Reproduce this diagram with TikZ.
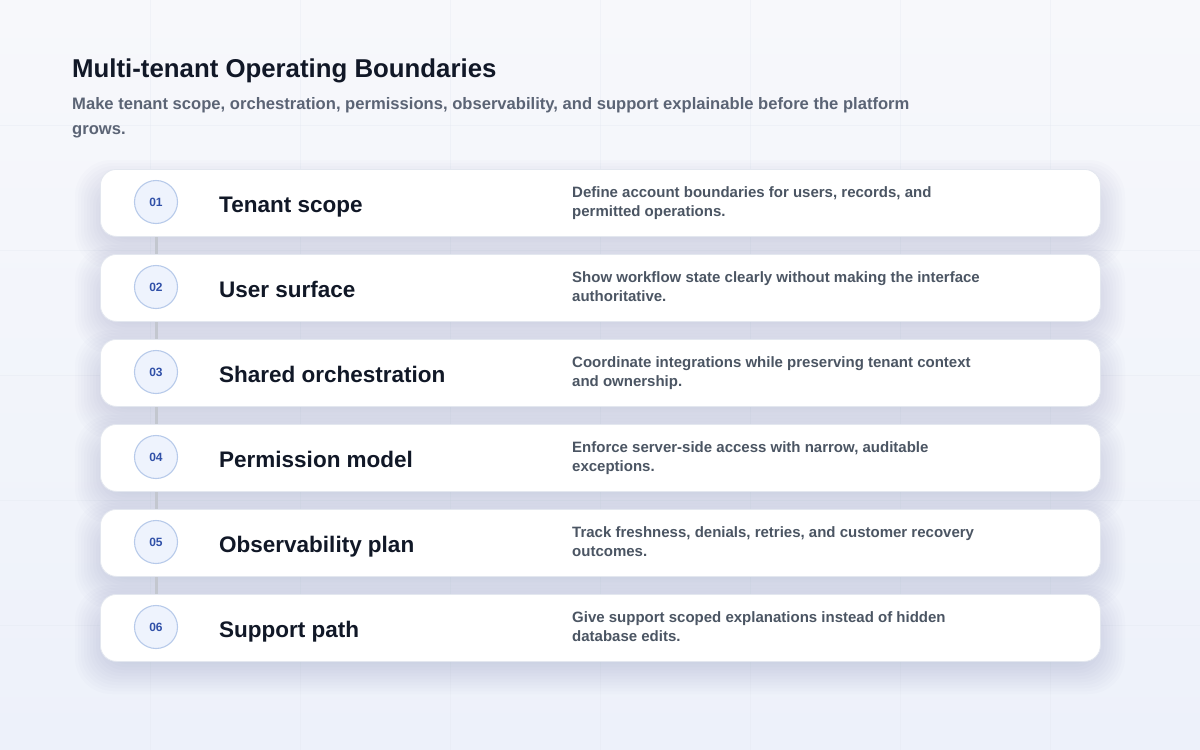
\documentclass[tikz,border=0pt]{standalone}
\usepackage{fontspec}
\setmainfont{Liberation Sans}
\definecolor{bgtop}{HTML}{F7F8FB}
\definecolor{bgbot}{HTML}{EDF1FA}
\definecolor{gridc}{HTML}{E3E8F0}
\definecolor{titlec}{HTML}{111827}
\definecolor{subc}{HTML}{5B6475}
\definecolor{descc}{HTML}{4B5563}
\definecolor{cardline}{HTML}{E3E7EF}
\definecolor{shadowc}{HTML}{4A5A80}
\definecolor{circfill}{HTML}{EEF3FD}
\definecolor{circline}{HTML}{B7CAEA}
\definecolor{numc}{HTML}{3050A8}
\definecolor{linkc}{HTML}{C3C7CF}
\tikzset{
  cardbox/.style={draw=cardline, line width=0.8pt, fill=white, rounded corners=16pt, minimum width=1000pt, minimum height=67pt, inner sep=0pt},
  numcirc/.style={circle, draw=circline, line width=1.1pt, fill=circfill, minimum size=43pt, inner sep=0pt, text=numc, font=\fontsize{12}{14}\bfseries},
  cardtitle/.style={anchor=base west, inner sep=0pt, text=titlec, font=\fontsize{22.5}{26}\bfseries},
  carddesc/.style={anchor=base west, inner sep=0pt, text=descc, font=\fontsize{15}{19}\bfseries},
  linkline/.style={draw=linkc, line width=3pt},
}
\begin{document}
\begin{tikzpicture}[x=1pt,y=-1pt]
\useasboundingbox (0,0) rectangle (1200,750);
% background
\shade[top color=bgtop, bottom color=bgbot] (0,0) rectangle (1200,750);
\foreach \gx in {150,300,...,1050} {\draw[gridc, line width=0.8pt, opacity=0.35] (\gx,0) -- (\gx,750);}
\foreach \gy in {125,250,...,625} {\draw[gridc, line width=0.8pt, opacity=0.35] (0,\gy) -- (1200,\gy);}
% heading
\node[anchor=base west, inner sep=0pt, text=titlec, font=\fontsize{25.8}{30}\bfseries] (title) at (72,77) {Multi-tenant Operating Boundaries};
\node[anchor=base west, inner sep=0pt, text=subc, font=\fontsize{16.6}{20}\bfseries] (sub1) at (72,109.5) {Make tenant scope, orchestration, permissions, observability, and support explainable before the platform};
\node[anchor=base west, inner sep=0pt, text=subc, font=\fontsize{16.6}{20}\bfseries] (sub2) at (72,134.5) {grows.};
% shadows
\foreach \i in {0,...,5} {
  \pgfmathsetmacro{\ty}{169+85*\i}
  \foreach \k in {-7,...,7} {
    \fill[shadowc, opacity=0.015, rounded corners=16pt+\k*1.5pt+10pt]
      (100-\k*3-4,\ty+12-\k*3) rectangle (1100+\k*3+4,\ty+67+12+\k*3);
  }
}
% connectors (behind cards)
\foreach \i in {0,...,5} {
  \coordinate (cc\i) at (156,202+85*\i);
}
\foreach \i/\j in {0/1,1/2,2/3,3/4,4/5} {
  \draw[linkline] ([yshift=-21pt]cc\i) -- ([yshift=21pt]cc\j);
}
% cards
\foreach \i/\num/\ttl/\da/\db in {
  0/01/{Tenant scope}/{Define account boundaries for users, records, and}/{permitted operations.},
  1/02/{User surface}/{Show workflow state clearly without making the interface}/{authoritative.},
  2/03/{Shared orchestration}/{Coordinate integrations while preserving tenant context}/{and ownership.},
  3/04/{Permission model}/{Enforce server-side access with narrow, auditable}/{exceptions.},
  4/05/{Observability plan}/{Track freshness, denials, retries, and customer recovery}/{outcomes.},
  5/06/{Support path}/{Give support scoped explanations instead of hidden}/{database edits.}} {
  \pgfmathsetmacro{\ty}{169+85*\i}
  \node[cardbox, anchor=north west] (card\i) at (100,\ty) {};
  \node[numcirc] (num\i) at (156,\ty+33) {\num};
  \node[cardtitle] (ttl\i) at (219,\ty+43) {\ttl};
  \node[carddesc] (da\i) at (572,\ty+28.5) {\da};
  \node[carddesc] (db\i) at (572,\ty+47.5) {\db};
}
\end{tikzpicture}
\end{document}
